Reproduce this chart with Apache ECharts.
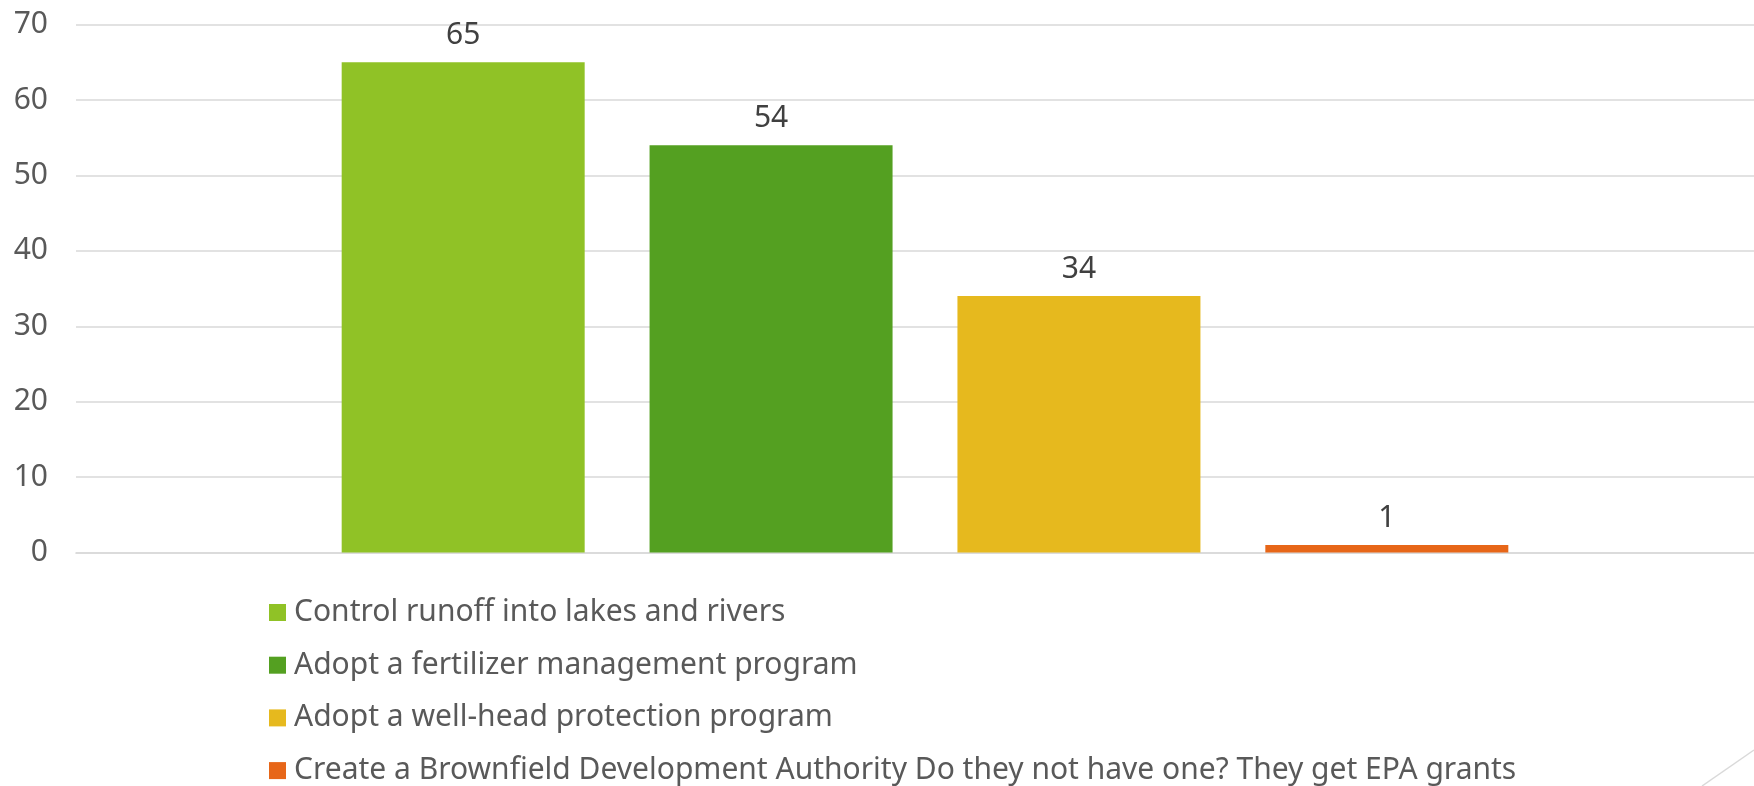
<!DOCTYPE html>
<html>
<head>
<meta charset="utf-8">
<script src="https://cdn.jsdelivr.net/npm/echarts@6/dist/echarts.min.js"></script>
<style>
html,body{margin:0;padding:0;background:#fff;overflow:hidden;}
#c{width:1774px;height:786px;}
</style>
</head>
<body>
<div id="c"></div>
<script>
var seriesNames = [
  'Control runoff into lakes and rivers',
  'Adopt a fertilizer management program',
  'Adopt a well-head protection program',
  'Create a Brownfield Development Authority Do they not have one? They get EPA grants'
];
var seriesValues = [65, 54, 34, 1];
var seriesColors = ['#90C226', '#54A021', '#E6B91E', '#E76618'];
var categories = [''];
var yMin = 0, yMax = 70, yStep = 10;

var FONT = '"Noto Sans", "Open Sans", sans-serif';

var chart = echarts.init(document.getElementById('c'), null, {renderer: 'canvas'});

var series = seriesNames.map(function (name, i) {
  return {
    name: name,
    type: 'bar',
    data: [seriesValues[i]],
    barWidth: 243,
    barGap: '26.7%',
    itemStyle: {color: seriesColors[i]},
    label: {
      show: true,
      position: 'top',
      distance: 12,
      color: '#404040',
      fontSize: 30,
      fontFamily: FONT
    },
    emphasis: {disabled: true}
  };
});

chart.setOption({
  animation: false,
  backgroundColor: '#ffffff',
  grid: {left: 76, right: 0, top: 24.6, bottom: 233.5, containLabel: false},
  xAxis: {
    type: 'category',
    data: categories,
    axisLine: {show: true, lineStyle: {color: '#d9d9d9', width: 1.7}},
    axisTick: {show: false},
    axisLabel: {show: false},
    splitLine: {show: false}
  },
  yAxis: {
    type: 'value',
    min: yMin,
    max: yMax,
    interval: yStep,
    axisLine: {show: false},
    axisTick: {show: false},
    axisLabel: {
      margin: 28,
      color: '#595959',
      fontSize: 30,
      fontFamily: FONT
    },
    splitLine: {show: true, lineStyle: {color: '#d9d9d9', width: 1.7}}
  },
  legend: {
    orient: 'vertical',
    left: 269,
    top: 597,
    height: 300,
    padding: 0,
    itemWidth: 17,
    itemHeight: 17,
    itemGap: 21.7,
    icon: 'rect',
    selectedMode: false,
    textStyle: {
      color: '#595959',
      fontSize: 30,
      lineHeight: 31,
      fontFamily: FONT,
      padding: [0, 0, 0, 3]
    },
    data: seriesNames
  },
  graphic: [{
    type: 'line',
    silent: true,
    shape: {x1: 1702, y1: 786, x2: 1754, y2: 750},
    style: {stroke: '#d9d9d9', lineWidth: 1.5}
  }],
  series: series
});
</script>
</body>
</html>
